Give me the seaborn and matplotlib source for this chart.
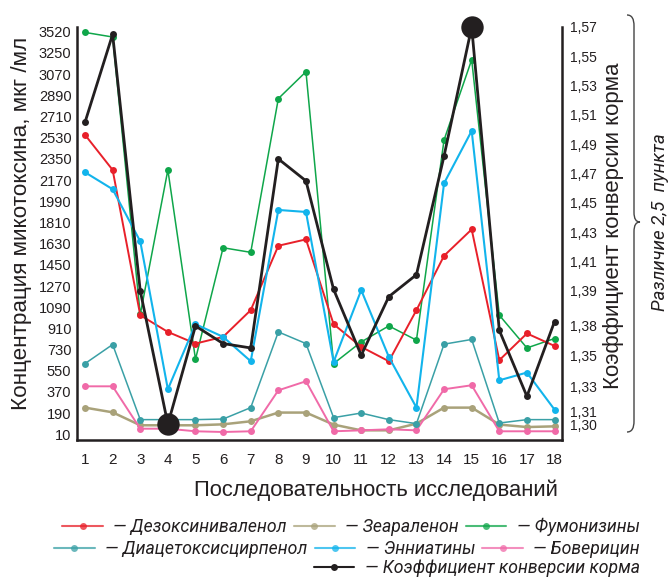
import numpy as np
import pandas as pd
import matplotlib
matplotlib.use("Agg")
import matplotlib.pyplot as plt
import seaborn as sns
from matplotlib.lines import Line2D
from matplotlib.path import Path
from matplotlib.patches import PathPatch

# ---------------- data ----------------
runs = list(range(1, 18 + 1))
don = [2554, 2256, 1022, 880, 781, 838, 1065, 1612, 1666, 946, 753, 631, 1065, 1527, 1751, 640, 867, 761]
zen = [237, 197, 87, 87, 87, 95, 121, 195, 195, 93, 44, 44, 101, 237, 237, 93, 72, 78]
fum = [3424, 3385, 1028, 2256, 648, 1595, 1556, 2862, 3090, 611, 795, 931, 810, 2511, 3192, 1022, 744, 824]
das = [611, 773, 135, 135, 135, 140, 237, 880, 781, 152, 191, 135, 101, 776, 816, 106, 135, 135]
enn = [2236, 2092, 1649, 393, 946, 838, 631, 1916, 1899, 625, 1235, 668, 237, 2143, 2588, 469, 535, 220]
bea = [418, 418, 58, 58, 36, 30, 36, 384, 461, 36, 44, 53, 44, 393, 427, 36, 36, 36]
fcr = [1.505, 1.565, 1.390, 1.299, 1.366, 1.354, 1.351, 1.480, 1.465, 1.391, 1.346, 1.386, 1.401, 1.482, 1.570, 1.363, 1.318, 1.369]

left_tick_labels = ["10", "190", "370", "550", "730", "910", "1090", "1270", "1450", "1630",
                    "1810", "1990", "2170", "2350", "2530", "2710", "2890", "3070", "3250", "3520"]
right_tick_values = [1.57, 1.55, 1.53, 1.51, 1.49, 1.47, 1.45, 1.43, 1.41, 1.39, 1.366, 1.346, 1.325, 1.3075, 1.299]
right_tick_labels = ["1,57", "1,55", "1,53", "1,51", "1,49", "1,47", "1,45", "1,43", "1,41", "1,39",
                     "1,38", "1,35", "1,33", "1,31", "1,30"]

names = ["Дезоксиниваленол", "Зеараленон", "Фумонизины",
         "Диацетоксисцирпенол", "Энниатины", "Боверицин"]
fcr_name = "Коэффициент конверсии корма"
colors = {"Дезоксиниваленол": "#E8202A", "Зеараленон": "#A9A27A", "Фумонизины": "#0FA64A",
          "Диацетоксисцирпенол": "#3AA0A6", "Энниатины": "#12B4EC", "Боверицин": "#F06AA8"}
widths = {"Дезоксиниваленол": 1.4, "Зеараленон": 1.8, "Фумонизины": 1.1,
          "Диацетоксисцирпенол": 1.1, "Энниатины": 1.5, "Боверицин": 1.4}
fcr_color = "#231F20"

series = dict(zip(names, [don, zen, fum, das, enn, bea]))
df = pd.concat([pd.DataFrame({"run": runs, "value": v, "toxin": k}) for k, v in series.items()])
df_fcr = pd.DataFrame({"run": runs, "fcr": fcr})

# ---------------- figure ----------------
sns.set_style("white")
plt.rcParams["font.family"] = ["Liberation Sans", "DejaVu Sans"]

W, H = 669, 578
fig = plt.figure(figsize=(W / 100, H / 100), dpi=100)
ax = fig.add_axes([77 / W, 1 - 440 / H, (562 - 77) / W, (440 - 27) / H])

draw_order = ["Зеараленон", "Боверицин", "Диацетоксисцирпенол", "Фумонизины", "Дезоксиниваленол", "Энниатины"]
for nm in draw_order:
    sub = df[df["toxin"] == nm]
    sns.lineplot(data=sub, x="run", y="value", ax=ax, color=colors[nm], lw=widths[nm],
                 marker="o", markersize=5, markeredgewidth=0, legend=False, clip_on=False)

ax.set_xlim(0.71, 18.27)
ax.set_ylim(-38, 3470)
ax.set_yticks(np.arange(len(left_tick_labels)) * 180 + 10)
ax.set_yticklabels(left_tick_labels)
ax.set_xticks(runs)
ax.set_xticklabels([str(r) for r in runs])
ax.tick_params(axis="y", length=0, pad=4, labelsize=10.5, colors="#231F20")
ax.tick_params(axis="x", length=0, pad=9, labelsize=11, colors="#231F20")
ax.set_xlabel("")
ax.set_ylabel("")

ax2 = ax.twinx()
sns.lineplot(data=df_fcr, x="run", y="fcr", ax=ax2, color=fcr_color, lw=2.0,
             marker="o", markersize=5, markeredgewidth=0, legend=False, clip_on=False)
ext = df_fcr.iloc[[int(np.argmin(fcr)), int(np.argmax(fcr))]]
sns.scatterplot(data=ext, x="run", y="fcr", ax=ax2, color=fcr_color, s=260,
                linewidth=0, legend=False, clip_on=False, zorder=5)
ax2.set_ylim(1.2882, 1.5678)
ax2.set_yticks(right_tick_values)
ax2.set_yticklabels(right_tick_labels)
ax2.tick_params(axis="y", length=0, pad=6, labelsize=10, colors="#231F20")
ax2.set_ylabel("")
ax2.set_xlabel("")

for a in (ax, ax2):
    for s in a.spines.values():
        s.set_visible(False)
ax.spines["left"].set_visible(True)
ax.spines["bottom"].set_visible(True)
ax2.spines["right"].set_visible(True)
for s in (ax.spines["left"], ax.spines["bottom"], ax2.spines["right"]):
    s.set_linewidth(1.8)
    s.set_color("#231F20")

# axis titles
fig.text(22 / W, 1 - 223 / H, "Концентрация микотоксина, мкг /мл", rotation=90,
         ha="center", va="center", fontsize=16.2, color="#231F20")
fig.text(613 / W, 1 - 226 / H, "Коэффициент конверсии корма", rotation=90,
         ha="center", va="center", fontsize=16, color="#231F20")
fig.text(376 / W, 1 - 490 / H, "Последовательность исследований",
         ha="center", va="center", fontsize=15.8, color="#231F20")

# brace
def px(x, y):
    return (x / 100, (H - y) / 100)

verts = [px(627, 15), px(632, 15), px(634, 19), px(634, 26), px(634, 212),
         px(634, 219), px(636, 222), px(640, 222),
         px(636, 222), px(634, 225), px(634, 232), px(634, 421),
         px(634, 428), px(632, 432), px(627, 432)]
codes = [Path.MOVETO, Path.CURVE4, Path.CURVE4, Path.CURVE4, Path.LINETO,
         Path.CURVE4, Path.CURVE4, Path.CURVE4,
         Path.CURVE4, Path.CURVE4, Path.CURVE4, Path.LINETO,
         Path.CURVE4, Path.CURVE4, Path.CURVE4]
fig.add_artist(PathPatch(Path(verts, codes), transform=fig.dpi_scale_trans,
                         fill=False, lw=1.0, edgecolor="#444444"))
fig.text(660 / W, 1 - 222 / H, "Различие 2,5  пункта", rotation=90, ha="center", va="center",
         fontsize=13.5, style="italic", color="#231F20", family=["Roboto", "DejaVu Sans"])

# legend rows
leg_font = {"family": ["Roboto", "DejaVu Sans"], "style": "italic", "size": 12.7}

def handle(c, a=0.75):
    return Line2D([], [], color=c, lw=1.5, alpha=a, marker="o", markersize=5,
                  markerfacecolor=c, markeredgewidth=0)

rows = [(names[:3], 527), (names[3:], 549)]
for nms, yy in rows:
    lg = fig.legend([handle(colors[n]) for n in nms], ["— " + n for n in nms], ncol=3,
                    loc="center right", bbox_to_anchor=(640 / W, 1 - yy / H), frameon=False,
                    prop=leg_font, handlelength=2.3, handletextpad=0.6, columnspacing=0.4,
                    borderaxespad=0, borderpad=0, labelcolor="#231F20")
lg = fig.legend([handle(fcr_color, 1.0)], ["— " + fcr_name], ncol=1,
                loc="center right", bbox_to_anchor=(640 / W, 1 - 568 / H), frameon=False,
                prop=leg_font, handlelength=2.3, handletextpad=0.6,
                borderaxespad=0, borderpad=0, labelcolor="#231F20")

fig.savefig("out.png", dpi=100)
